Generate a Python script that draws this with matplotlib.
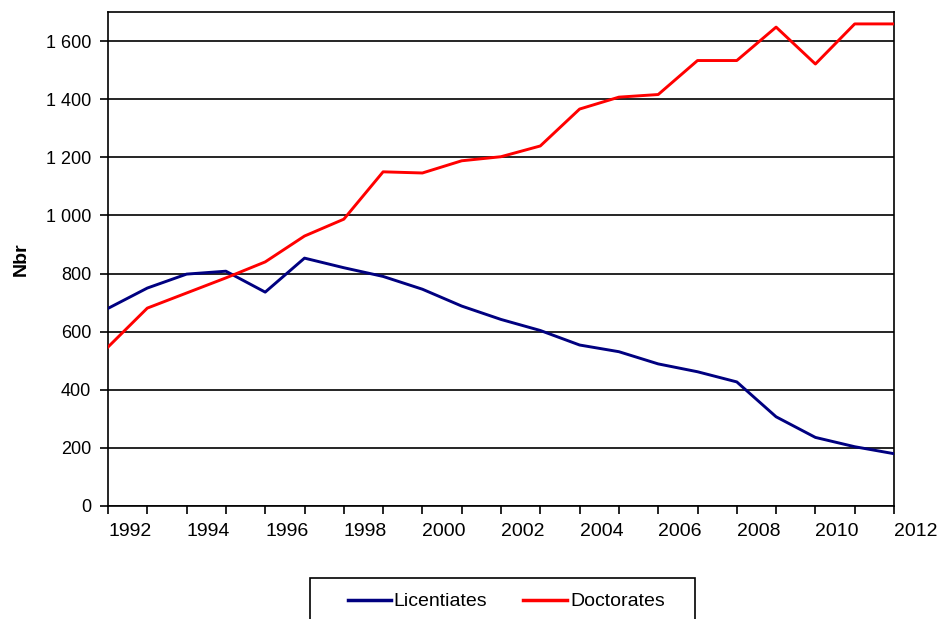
import matplotlib
matplotlib.use("Agg")
import matplotlib.pyplot as plt
from matplotlib.lines import Line2D
from matplotlib.patches import Rectangle

years = list(range(1992, 2013))
licentiates = [680, 750, 798, 808, 736, 853, 820, 790, 746, 688, 642,
               604, 554, 531, 489, 462, 427, 307, 236, 204, 180]
doctorates = [547, 681, 733, 785, 840, 929, 987, 1150, 1146, 1188, 1202,
              1239, 1366, 1407, 1416, 1533, 1533, 1648, 1521, 1659, 1659]
series_names = ["Licentiates", "Doctorates"]
y_ticks = [0, 200, 400, 600, 800, 1000, 1200, 1400, 1600]

plt.rcParams["font.family"] = ["Liberation Sans", "DejaVu Sans"]

W, H = 938, 619
fig = plt.figure(figsize=(W / 100, H / 100), dpi=100)
ax = fig.add_axes([108 / W, (H - 506) / H, 786 / W, 494 / H])

navy = "#000080"
red = "#ff0000"
colors = [navy, red]
ax.plot(years, licentiates, color=navy, lw=2.1, solid_joinstyle="round", zorder=3)
ax.plot(years, doctorates, color=red, lw=2.1, solid_joinstyle="round", zorder=3)

ax.set_xlim(years[0], years[-1])
ax.set_ylim(0, 1700)

ax.set_yticks(y_ticks)
ax.set_yticklabels([f"{v:,}".replace(",", " ") for v in y_ticks], fontsize=13)
ax.yaxis.grid(True, color="black", lw=1.2)
ax.set_axisbelow(True)

ax.set_xticks(years)
ax.set_xticklabels([str(y) if (y - years[0]) % 2 == 0 else "" for y in years],
                   fontsize=14, ha="left")

ax.tick_params(axis="both", direction="out", length=6, width=1.2, color="black")
ax.tick_params(axis="x", pad=6)
ax.tick_params(axis="y", pad=6)

for s in ax.spines.values():
    s.set_color("black")
    s.set_linewidth(1.2)

ax.set_ylabel("Nbr", fontsize=14, fontweight="bold", labelpad=12)

# Legend box along the bottom edge, running past the figure border
def fx(px):
    return px / W

def fy(py):
    return 1 - py / H

fig.patches.append(Rectangle((fx(310), fy(640)), fx(695) - fx(310), fy(578) - fy(640),
                             transform=fig.transFigure, fill=False,
                             edgecolor="black", lw=1.2))
entries = [(348, 391, 393), (523, 567, 570)]
for (x0, x1, xt), name, c in zip(entries, series_names, colors):
    fig.add_artist(Line2D([fx(x0), fx(x1)], [fy(600), fy(600)],
                          transform=fig.transFigure, color=c, lw=2.5))
    fig.text(fx(xt), fy(600), name, fontsize=14, ha="left", va="center_baseline")

fig.savefig("out.png", dpi=100, facecolor="white")
